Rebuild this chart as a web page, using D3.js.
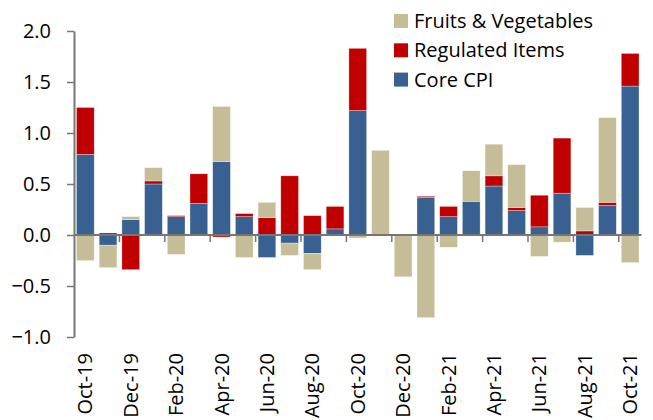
<!DOCTYPE html>
<html>
<head>
<meta charset="utf-8">
<script src="https://cdn.jsdelivr.net/npm/d3@7"></script>
<style>
  body { margin: 0; background: #fff; }
  svg text { font-family: "Open Sans", sans-serif; fill: #000; }
</style>
</head>
<body>
<div id="chart"></div>
<script>
const months = ["Oct-19","Nov-19","Dec-19","Jan-20","Feb-20","Mar-20","Apr-20","May-20","Jun-20","Jul-20","Aug-20","Sep-20",
  "Oct-20","Nov-20","Dec-20","Jan-21","Feb-21","Mar-21","Apr-21","May-21","Jun-21","Jul-21","Aug-21","Sep-21","Oct-21"];
const coreCPI   = [0.79,-0.10,0.15,0.50,0.18,0.31,0.72,0.18,-0.22,-0.08,-0.18,0.06,1.22,0.00,0.00,0.37,0.18,0.33,0.48,0.24,0.08,0.41,-0.20,0.29,1.46];
const regulated = [0.46,0.02,-0.34,0.03,0.01,0.29,-0.02,0.03,0.17,0.58,0.19,0.22,0.61,-0.01,0.00,0.01,0.10,0.00,0.10,0.03,0.31,0.54,0.04,0.03,0.32];
const fruitsVeg = [-0.25,-0.22,0.03,0.13,-0.19,0.00,0.54,-0.22,0.15,-0.12,-0.16,0.00,-0.03,0.83,-0.41,-0.81,-0.12,0.30,0.31,0.42,-0.21,-0.07,0.23,0.83,-0.27];
const yTicks = [-1.0,-0.5,0.0,0.5,1.0,1.5,2.0];

const seriesNames = ["Core CPI","Regulated Items","Fruits & Vegetables"];
const colors = ["#386192","#C00000","#C4BD97"];

const width = 653, height = 420;
const margin = {top: 31, right: 12, bottom: 83, left: 74};
const fontSize = "20px";

const rows = months.map((m, i) => ({month: m, core: coreCPI[i], reg: regulated[i], fv: fruitsVeg[i]}));
const keys = ["core","reg","fv"];

const x = d3.scaleBand().domain(months).range([margin.left, 641.5]).paddingInner(0.22).paddingOuter(0.11);
const y = d3.scaleLinear().domain([-1, 2]).range([height - margin.bottom, margin.top]);

const stack = d3.stack().keys(keys).offset(d3.stackOffsetDiverging);
const layers = stack(rows);

const svg = d3.select("#chart").append("svg")
  .attr("width", width).attr("height", height);

svg.append("g").selectAll("g")
  .data(layers)
  .join("g")
  .attr("fill", (d, i) => colors[i])
  .selectAll("rect")
  .data(d => d)
  .join("rect")
  .attr("x", d => x(d.data.month))
  .attr("width", x.bandwidth())
  .attr("y", d => y(Math.max(d[0], d[1])))
  .attr("height", d => Math.abs(y(d[0]) - y(d[1])))
  .attr("stroke", "#fff")
  .attr("stroke-opacity", 0.5)
  .attr("stroke-width", 0.6);

// y axis
const yAxis = svg.append("g")
  .attr("transform", `translate(${margin.left},0)`)
  .call(d3.axisLeft(y).tickValues(yTicks).tickFormat(d3.format(".1f")).tickSize(7).tickSizeOuter(0).tickPadding(16));
yAxis.select(".domain").attr("stroke", "#767676").attr("stroke-width", 2);
yAxis.selectAll(".tick line").attr("stroke", "#767676").attr("stroke-width", 1.5);
yAxis.selectAll(".tick text").style("font-size", fontSize).attr("dy", "0.34em");

// x axis along zero
const step = x.step();
const zeroY = y(0);
svg.append("line")
  .attr("x1", margin.left).attr("x2", 641.5)
  .attr("y1", zeroY).attr("y2", zeroY)
  .attr("stroke", "#767676").attr("stroke-width", 2);
svg.append("g").selectAll("line")
  .data(months.filter((m, i) => i % 2 === 1 && i < months.length - 1))
  .join("line")
  .attr("x1", d => x(d) + x.bandwidth() + step * x.paddingInner() / 2)
  .attr("x2", d => x(d) + x.bandwidth() + step * x.paddingInner() / 2)
  .attr("y1", zeroY).attr("y2", zeroY + 7)
  .attr("stroke", "#767676").attr("stroke-width", 1.5);

// month labels, every other one
svg.append("g").selectAll("text")
  .data(months.filter((m, i) => i % 2 === 0))
  .join("text")
  .attr("transform", d => `translate(${x(d) + x.bandwidth() / 2 + 7},353) rotate(-90)`)
  .attr("text-anchor", "end")
  .style("font-size", fontSize)
  .text(d => d);

// legend
const legendOrder = [2, 1, 0];
const legend = svg.append("g").selectAll("g")
  .data(legendOrder)
  .join("g")
  .attr("transform", (d, i) => `translate(394,${14 + i * 29.3})`);
legend.append("rect")
  .attr("width", 14).attr("height", 14)
  .attr("fill", d => colors[d]);
legend.append("text")
  .attr("x", 20).attr("y", 14)
  .style("font-size", fontSize)
  .text(d => seriesNames[d]);
</script>
</body>
</html>
